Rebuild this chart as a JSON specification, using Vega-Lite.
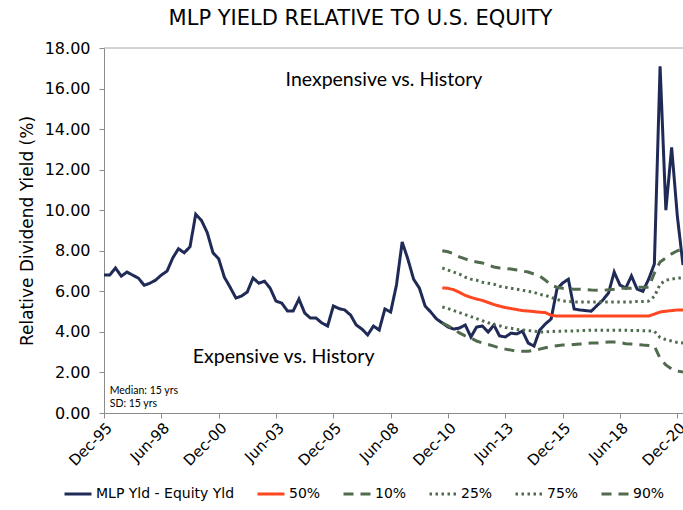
{
  "$schema": "https://vega.github.io/schema/vega-lite/v6.json",
  "width": 579,
  "height": 365,
  "autosize": {"type": "none"},
  "padding": {"left": 104, "top": 48, "right": 0, "bottom": 97},
  "background": "white",
  "title": {"text": "MLP YIELD RELATIVE TO U.S. EQUITY", "font": "DejaVu Sans", "fontSize": 21, "fontWeight": "normal", "color": "#000000", "anchor": "middle", "dx": -33, "offset": 11},
  "config": {"view": {"stroke": null}, "font": "DejaVu Sans"},
  "layer": [
    {
      "data": {"values": [
        {"d": "1995-12-01", "mlp": 6.8},
        {"d": "1996-03-01", "mlp": 6.8},
        {"d": "1996-06-01", "mlp": 7.15},
        {"d": "1996-09-01", "mlp": 6.75},
        {"d": "1996-12-01", "mlp": 6.95},
        {"d": "1997-03-01", "mlp": 6.8},
        {"d": "1997-06-01", "mlp": 6.65},
        {"d": "1997-09-01", "mlp": 6.3},
        {"d": "1997-12-01", "mlp": 6.4},
        {"d": "1998-03-01", "mlp": 6.55},
        {"d": "1998-06-01", "mlp": 6.8},
        {"d": "1998-09-01", "mlp": 7.0},
        {"d": "1998-12-01", "mlp": 7.65},
        {"d": "1999-03-01", "mlp": 8.1},
        {"d": "1999-06-01", "mlp": 7.9},
        {"d": "1999-09-01", "mlp": 8.2},
        {"d": "1999-12-01", "mlp": 9.8},
        {"d": "2000-03-01", "mlp": 9.5},
        {"d": "2000-06-01", "mlp": 8.9},
        {"d": "2000-09-01", "mlp": 7.9},
        {"d": "2000-12-01", "mlp": 7.6},
        {"d": "2001-03-01", "mlp": 6.7},
        {"d": "2001-06-01", "mlp": 6.2},
        {"d": "2001-09-01", "mlp": 5.67},
        {"d": "2001-12-01", "mlp": 5.77},
        {"d": "2002-03-01", "mlp": 5.97},
        {"d": "2002-06-01", "mlp": 6.66},
        {"d": "2002-09-01", "mlp": 6.4},
        {"d": "2002-12-01", "mlp": 6.5},
        {"d": "2003-03-01", "mlp": 6.15},
        {"d": "2003-06-01", "mlp": 5.52},
        {"d": "2003-09-01", "mlp": 5.42},
        {"d": "2003-12-01", "mlp": 5.03},
        {"d": "2004-03-01", "mlp": 5.03},
        {"d": "2004-06-01", "mlp": 5.62},
        {"d": "2004-09-01", "mlp": 4.93},
        {"d": "2004-12-01", "mlp": 4.68},
        {"d": "2005-03-01", "mlp": 4.68},
        {"d": "2005-06-01", "mlp": 4.44},
        {"d": "2005-09-01", "mlp": 4.29},
        {"d": "2005-12-01", "mlp": 5.28},
        {"d": "2006-03-01", "mlp": 5.15},
        {"d": "2006-06-01", "mlp": 5.08},
        {"d": "2006-09-01", "mlp": 4.83},
        {"d": "2006-12-01", "mlp": 4.34},
        {"d": "2007-03-01", "mlp": 4.14},
        {"d": "2007-06-01", "mlp": 3.85},
        {"d": "2007-09-01", "mlp": 4.29},
        {"d": "2007-12-01", "mlp": 4.09},
        {"d": "2008-03-01", "mlp": 5.13},
        {"d": "2008-06-01", "mlp": 4.98},
        {"d": "2008-09-01", "mlp": 6.31},
        {"d": "2008-12-01", "mlp": 8.43},
        {"d": "2009-03-01", "mlp": 7.6},
        {"d": "2009-06-01", "mlp": 6.6},
        {"d": "2009-09-01", "mlp": 6.16},
        {"d": "2009-12-01", "mlp": 5.28},
        {"d": "2010-03-01", "mlp": 4.98},
        {"d": "2010-06-01", "mlp": 4.64},
        {"d": "2010-09-01", "mlp": 4.44, "p10": 4.45, "p25": 5.23, "p50": 6.17, "p75": 7.15, "p90": 8.0},
        {"d": "2010-12-01", "mlp": 4.24, "p10": 4.3, "p25": 5.15, "p50": 6.15, "p75": 7.05, "p90": 7.95},
        {"d": "2011-03-01", "mlp": 4.14, "p10": 4.15, "p25": 5.05, "p50": 6.08, "p75": 6.95, "p90": 7.85},
        {"d": "2011-06-01", "mlp": 4.19, "p10": 3.95, "p25": 4.95, "p50": 5.95, "p75": 6.85, "p90": 7.7},
        {"d": "2011-09-01", "mlp": 4.34, "p10": 3.8, "p25": 4.85, "p50": 5.8, "p75": 6.7, "p90": 7.6},
        {"d": "2011-12-01", "mlp": 3.75, "p10": 3.7, "p25": 4.75, "p50": 5.7, "p75": 6.6, "p90": 7.5},
        {"d": "2012-03-01", "mlp": 4.24, "p10": 3.55, "p25": 4.65, "p50": 5.62, "p75": 6.55, "p90": 7.45},
        {"d": "2012-06-01", "mlp": 4.29, "p10": 3.45, "p25": 4.55, "p50": 5.55, "p75": 6.45, "p90": 7.4},
        {"d": "2012-09-01", "mlp": 3.99, "p10": 3.38, "p25": 4.45, "p50": 5.45, "p75": 6.4, "p90": 7.3},
        {"d": "2012-12-01", "mlp": 4.34, "p10": 3.3, "p25": 4.35, "p50": 5.35, "p75": 6.35, "p90": 7.2},
        {"d": "2013-03-01", "mlp": 3.8, "p10": 3.2, "p25": 4.3, "p50": 5.27, "p75": 6.25, "p90": 7.15},
        {"d": "2013-06-01", "mlp": 3.75, "p10": 3.15, "p25": 4.22, "p50": 5.2, "p75": 6.2, "p90": 7.12},
        {"d": "2013-09-01", "mlp": 3.94, "p10": 3.1, "p25": 4.18, "p50": 5.15, "p75": 6.15, "p90": 7.1},
        {"d": "2013-12-01", "mlp": 3.9, "p10": 3.05, "p25": 4.12, "p50": 5.1, "p75": 6.1, "p90": 7.05},
        {"d": "2014-03-01", "mlp": 4.04, "p10": 3.05, "p25": 4.1, "p50": 5.05, "p75": 6.05, "p90": 7.0},
        {"d": "2014-06-01", "mlp": 3.45, "p10": 3.05, "p25": 4.07, "p50": 5.03, "p75": 6.0, "p90": 6.95},
        {"d": "2014-09-01", "mlp": 3.3, "p10": 3.08, "p25": 4.03, "p50": 5.0, "p75": 5.95, "p90": 6.85},
        {"d": "2014-12-01", "mlp": 4.09, "p10": 3.15, "p25": 4.0, "p50": 4.97, "p75": 5.85, "p90": 6.75},
        {"d": "2015-03-01", "mlp": 4.39, "p10": 3.22, "p25": 4.0, "p50": 4.95, "p75": 5.8, "p90": 6.55},
        {"d": "2015-06-01", "mlp": 4.64, "p10": 3.28, "p25": 4.02, "p50": 4.82, "p75": 5.7, "p90": 6.3},
        {"d": "2015-09-01", "mlp": 6.11, "p10": 3.32, "p25": 4.03, "p50": 4.78, "p75": 5.6, "p90": 6.2},
        {"d": "2015-12-01", "mlp": 6.41, "p10": 3.35, "p25": 4.04, "p50": 4.78, "p75": 5.52, "p90": 6.15},
        {"d": "2016-03-01", "mlp": 6.6, "p10": 3.35, "p25": 4.05, "p50": 4.78, "p75": 5.5, "p90": 6.12},
        {"d": "2016-06-01", "mlp": 5.13, "p10": 3.38, "p25": 4.05, "p50": 4.78, "p75": 5.48, "p90": 6.1},
        {"d": "2016-09-01", "mlp": 5.08, "p10": 3.4, "p25": 4.06, "p50": 4.78, "p75": 5.48, "p90": 6.1},
        {"d": "2016-12-01", "mlp": 5.05, "p10": 3.42, "p25": 4.07, "p50": 4.78, "p75": 5.47, "p90": 6.08},
        {"d": "2017-03-01", "mlp": 5.02, "p10": 3.45, "p25": 4.08, "p50": 4.78, "p75": 5.47, "p90": 6.06},
        {"d": "2017-06-01", "mlp": 5.3, "p10": 3.45, "p25": 4.08, "p50": 4.78, "p75": 5.47, "p90": 6.05},
        {"d": "2017-09-01", "mlp": 5.57, "p10": 3.47, "p25": 4.08, "p50": 4.78, "p75": 5.47, "p90": 6.05},
        {"d": "2017-12-01", "mlp": 5.92, "p10": 3.5, "p25": 4.08, "p50": 4.78, "p75": 5.47, "p90": 6.08},
        {"d": "2018-03-01", "mlp": 6.95, "p10": 3.5, "p25": 4.08, "p50": 4.78, "p75": 5.47, "p90": 6.1},
        {"d": "2018-06-01", "mlp": 6.31, "p10": 3.47, "p25": 4.08, "p50": 4.78, "p75": 5.47, "p90": 6.15},
        {"d": "2018-09-01", "mlp": 6.16, "p10": 3.42, "p25": 4.08, "p50": 4.78, "p75": 5.48, "p90": 6.15},
        {"d": "2018-12-01", "mlp": 6.76, "p10": 3.4, "p25": 4.07, "p50": 4.78, "p75": 5.48, "p90": 6.15},
        {"d": "2019-03-01", "mlp": 6.11, "p10": 3.38, "p25": 4.07, "p50": 4.78, "p75": 5.5, "p90": 6.2},
        {"d": "2019-06-01", "mlp": 6.0, "p10": 3.35, "p25": 4.06, "p50": 4.78, "p75": 5.5, "p90": 6.2},
        {"d": "2019-09-01", "mlp": 6.6, "p10": 3.33, "p25": 4.05, "p50": 4.78, "p75": 5.52, "p90": 6.2},
        {"d": "2019-12-01", "mlp": 7.35, "p10": 3.3, "p25": 4.03, "p50": 4.88, "p75": 5.75, "p90": 6.9},
        {"d": "2020-03-01", "mlp": 17.1, "p10": 2.7, "p25": 3.72, "p50": 4.98, "p75": 6.35, "p90": 7.45},
        {"d": "2020-06-01", "mlp": 10.0, "p10": 2.37, "p25": 3.62, "p50": 5.02, "p75": 6.55, "p90": 7.65},
        {"d": "2020-09-01", "mlp": 13.1, "p10": 2.17, "p25": 3.55, "p50": 5.05, "p75": 6.6, "p90": 7.85},
        {"d": "2020-12-01", "mlp": 9.7, "p10": 2.07, "p25": 3.48, "p50": 5.08, "p75": 6.65, "p90": 8.0},
        {"d": "2021-03-01", "mlp": 7.3, "p10": 2.02, "p25": 3.45, "p50": 5.08, "p75": 6.67, "p90": 8.1}
      ]},
      "transform": [{"fold": ["mlp", "p50", "p10", "p25", "p75", "p90"], "as": ["series", "value"]}],
      "mark": {"type": "line", "strokeWidth": 3, "strokeCap": "butt", "clip": true},
      "encoding": {
        "x": {
          "field": "d", "type": "temporal",
          "scale": {"type": "utc", "domain": [{"year": 1995, "month": 12, "date": 1, "utc": true}, {"year": 2021, "month": 3, "date": 1, "utc": true}]},
          "axis": {
            "title": null, "grid": false, "format": "%b-%y", "labelAngle": -45,
            "values": [
              {"year": 1995, "month": 12, "date": 1, "utc": true},
              {"year": 1998, "month": 6, "date": 1, "utc": true},
              {"year": 2000, "month": 12, "date": 1, "utc": true},
              {"year": 2003, "month": 6, "date": 1, "utc": true},
              {"year": 2005, "month": 12, "date": 1, "utc": true},
              {"year": 2008, "month": 6, "date": 1, "utc": true},
              {"year": 2010, "month": 12, "date": 1, "utc": true},
              {"year": 2013, "month": 6, "date": 1, "utc": true},
              {"year": 2015, "month": 12, "date": 1, "utc": true},
              {"year": 2018, "month": 6, "date": 1, "utc": true},
              {"year": 2020, "month": 12, "date": 1, "utc": true}
            ],
            "labelFont": "DejaVu Sans", "labelFontSize": 15, "labelColor": "#000000",
            "labelOverlap": false, "labelBound": false, "labelFlush": false,
            "tickSize": 5, "tickColor": "#8c8c8c", "domainColor": "#8c8c8c", "labelPadding": 2
          }
        },
        "y": {
          "field": "value", "type": "quantitative",
          "scale": {"domain": [0, 18]},
          "axis": {
            "title": "Relative Dividend Yield (%)", "titleFont": "DejaVu Sans", "titleFontSize": 17, "titleFontWeight": "normal", "titleColor": "#000000", "titlePadding": 8,
            "grid": false, "values": [0, 2, 4, 6, 8, 10, 12, 14, 16, 18], "format": ".2f",
            "labelFont": "DejaVu Sans", "labelFontSize": 16, "labelColor": "#000000",
            "tickSize": 5, "tickColor": "#8c8c8c", "domainColor": "#8c8c8c", "labelPadding": 9
          }
        },
        "color": {
          "field": "series", "type": "nominal",
          "scale": {"domain": ["mlp", "p50", "p10", "p25", "p75", "p90"], "range": ["#202A56", "#FF4721", "#516B4F", "#516B4F", "#516B4F", "#516B4F"]},
          "legend": {
            "title": null, "orient": "none", "direction": "horizontal", "legendX": -41, "legendY": 431,
            "symbolType": "stroke", "symbolSize": 729, "symbolStrokeWidth": 3,
            "labelFont": "DejaVu Sans", "labelFontSize": 14, "labelColor": "#000000", "labelOffset": 3, "columnPadding": 16,
            "labelExpr": "{'mlp': 'MLP Yld - Equity Yld', 'p50': '50%', 'p10': '10%', 'p25': '25%', 'p75': '75%', 'p90': '90%'}[datum.label]"
          }
        },
        "strokeDash": {
          "field": "series", "type": "nominal",
          "scale": {"domain": ["mlp", "p50", "p10", "p25", "p75", "p90"], "range": [[1, 0], [1, 0], [10, 7], [2.5, 3.5], [2.5, 3.5], [10, 7]]},
          "legend": {
            "title": null, "orient": "none", "direction": "horizontal", "legendX": -41, "legendY": 431,
            "symbolType": "stroke", "symbolSize": 729, "symbolStrokeWidth": 3,
            "labelFont": "DejaVu Sans", "labelFontSize": 14, "labelColor": "#000000", "labelOffset": 3, "columnPadding": 16,
            "labelExpr": "{'mlp': 'MLP Yld - Equity Yld', 'p50': '50%', 'p10': '10%', 'p25': '25%', 'p75': '75%', 'p90': '90%'}[datum.label]"
          }
        }
      }
    },
    {
      "data": {"values": [{}]},
      "mark": {"type": "rule", "color": "#a6a6a6", "strokeWidth": 1},
      "encoding": {"y": {"datum": 18}}
    },
    {
      "data": {"values": [{}]},
      "mark": {"type": "text", "font": "Lato", "fontSize": 19.5, "align": "left", "baseline": "middle", "color": "#000000", "text": "Inexpensive vs. History"},
      "encoding": {"x": {"datum": {"year": 2003, "month": 11, "date": 1, "utc": true}, "type": "temporal"}, "y": {"datum": 16.4}}
    },
    {
      "data": {"values": [{}]},
      "mark": {"type": "text", "font": "Lato", "fontSize": 19.5, "align": "left", "baseline": "middle", "color": "#000000", "text": "Expensive vs. History"},
      "encoding": {"x": {"datum": {"year": 1999, "month": 10, "date": 15, "utc": true}, "type": "temporal"}, "y": {"datum": 2.76}}
    },
    {
      "data": {"values": [{}]},
      "mark": {"type": "text", "font": "Lato", "fontSize": 10.5, "align": "left", "baseline": "middle", "color": "#000000", "text": "Median: 15 yrs"},
      "encoding": {"x": {"datum": {"year": 1996, "month": 3, "date": 1, "utc": true}, "type": "temporal"}, "y": {"datum": 1.08}}
    },
    {
      "data": {"values": [{}]},
      "mark": {"type": "text", "font": "Lato", "fontSize": 10.5, "align": "left", "baseline": "middle", "color": "#000000", "text": "SD: 15 yrs"},
      "encoding": {"x": {"datum": {"year": 1996, "month": 3, "date": 1, "utc": true}, "type": "temporal"}, "y": {"datum": 0.44}}
    }
  ]
}
